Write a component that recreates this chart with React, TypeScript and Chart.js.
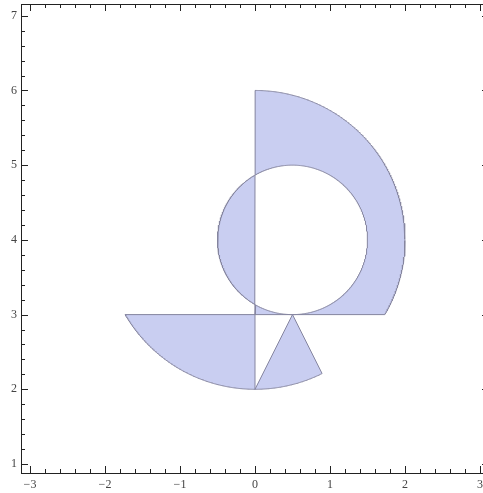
import React, { useEffect, useRef } from "react";
import { Chart, registerables } from "chart.js";

Chart.register(...registerables);

// Axis ranges and tick labels
const xRange = [-3.12, 3.12];
const yRange = [0.88, 7.157];
const xTickValues = [-3, -2, -1, 0, 1, 2, 3];
const yTickValues = [1, 2, 3, 4, 5, 6, 7];
const minorStep = 0.2;

// Geometry of the region (circles, cut lines, wedge)
const bigCircle = { cx: 0, cy: 4, r: 2 };
const smallCircle = { cx: 0.5, cy: 4, r: 1 };
const cutX = 0;
const cutY = 3;
const wedgeApex = { x: 0.5, y: 3 };
const wedgeSlope = 2;

const FILL = "rgba(201,206,241,1)";
const STROKE = "#85859f";

type P = { x: number; y: number };
const deg = Math.PI / 180;
function arc(c: { cx: number; cy: number; r: number }, a0: number, a1: number): P[] {
  const n = Math.max(8, Math.ceil(Math.abs(a1 - a0) * 3));
  const pts: P[] = [];
  for (let i = 0; i <= n; i++) {
    const a = (a0 + ((a1 - a0) * i) / n) * deg;
    pts.push({ x: c.cx + c.r * Math.cos(a), y: c.cy + c.r * Math.sin(a) });
  }
  return pts;
}

// intersection angles
const bigAtCutY = Math.asin((cutY - bigCircle.cy) / bigCircle.r) / deg; // -30
const smallAtCutX = Math.acos((cutX - smallCircle.cx) / smallCircle.r) / deg; // 120
const smallBottom = -90;
function wedgeRightAngle() {
  const k = wedgeApex.y + wedgeSlope * wedgeApex.x - bigCircle.cy;
  const a = 1 + wedgeSlope * wedgeSlope;
  const b = -2 * k * wedgeSlope - 2 * bigCircle.cx;
  const c = bigCircle.cx * bigCircle.cx + k * k - bigCircle.r * bigCircle.r;
  const x = (-b + Math.sqrt(b * b - 4 * a * c)) / (2 * a);
  const y = k - wedgeSlope * x + bigCircle.cy;
  return Math.atan2(y - bigCircle.cy, x - bigCircle.cx) / deg;
}

const close = (pts: P[]) => [...pts, pts[0]];

const regionUpper = close([
  ...arc(bigCircle, 90, bigAtCutY),
  ...arc(smallCircle, smallBottom, smallAtCutX),
]);
const regionSliver = close([
  { x: cutX, y: cutY },
  ...arc(smallCircle, smallBottom, -smallAtCutX),
]);
const regionLens = close(arc(smallCircle, smallAtCutX, 360 - smallAtCutX));
const regionLowerLeft = close([
  { x: cutX, y: cutY },
  ...arc(bigCircle, 180 - bigAtCutY, 270),
]);
const regionWedge = close([
  { x: wedgeApex.x, y: wedgeApex.y },
  ...arc(bigCircle, 270, 360 + wedgeRightAngle()),
]);

const regions = [regionUpper, regionSliver, regionLens, regionLowerLeft, regionWedge];

const polyFill = {
  id: "polyFill",
  beforeDatasetsDraw(chart: any) {
    const ctx = chart.ctx;
    const a = chart.chartArea;
    ctx.save();
    ctx.beginPath();
    ctx.rect(a.left, a.top, a.right - a.left, a.bottom - a.top);
    ctx.clip();
    chart.data.datasets.forEach((ds: any, i: number) => {
      const meta = chart.getDatasetMeta(i);
      if (!meta.data.length) return;
      ctx.beginPath();
      meta.data.forEach((pt: any, j: number) => {
        if (j === 0) ctx.moveTo(pt.x, pt.y);
        else ctx.lineTo(pt.x, pt.y);
      });
      ctx.closePath();
      ctx.fillStyle = ds.backgroundColor;
      ctx.fill();
    });
    ctx.restore();
  },
};

const frameTicks = {
  id: "frameTicks",
  afterDraw(chart: any) {
    const ctx = chart.ctx;
    const a = chart.chartArea;
    const xs = chart.scales.x;
    const ys = chart.scales.y;
    ctx.save();
    ctx.strokeStyle = "#222";
    ctx.lineWidth = 1;
    ctx.strokeRect(Math.round(a.left) + 0.5, Math.round(a.top) + 0.5, Math.round(a.right - a.left), Math.round(a.bottom - a.top));
    ctx.beginPath();
    const isMajor = (v: number) => Math.abs(v - Math.round(v)) < 1e-6;
    for (let v = Math.ceil(xRange[0] / minorStep) * minorStep; v <= xRange[1] + 1e-9; v += minorStep) {
      const vv = Math.round(v * 10) / 10;
      const px = Math.round(xs.getPixelForValue(vv)) + 0.5;
      const len = isMajor(vv) ? 7 : 4;
      ctx.moveTo(px, a.bottom);
      ctx.lineTo(px, a.bottom - len);
      ctx.moveTo(px, a.top);
      ctx.lineTo(px, a.top + len);
    }
    for (let v = Math.ceil(yRange[0] / minorStep) * minorStep; v <= yRange[1] + 1e-9; v += minorStep) {
      const vv = Math.round(v * 10) / 10;
      const py = Math.round(ys.getPixelForValue(vv)) + 0.5;
      const len = isMajor(vv) ? 7 : 4;
      ctx.moveTo(a.left, py);
      ctx.lineTo(a.left + len, py);
      ctx.moveTo(a.right, py);
      ctx.lineTo(a.right - len, py);
    }
    ctx.stroke();
    ctx.restore();
  },
};

const fmt = (v: number) => String(v).replace("-", "\u2212");

export default function App() {
  const ref = useRef<HTMLCanvasElement>(null);
  useEffect(() => {
    if (!ref.current) return;
    const chart = new Chart(ref.current, {
      type: "scatter",
      data: {
        datasets: regions.map((r) => ({
          data: r,
          showLine: true,
          pointRadius: 0,
          pointHoverRadius: 0,
          borderColor: STROKE,
          borderWidth: 1,
          backgroundColor: FILL,
          fill: false,
          tension: 0,
        })),
      },
      options: {
        responsive: false,
        animation: false,
        events: [],
        layout: { padding: { top: 4, right: 3, left: 0, bottom: 0 } },
        plugins: { legend: { display: false }, tooltip: { enabled: false } },
        scales: {
          x: {
            type: "linear",
            min: xRange[0],
            max: xRange[1],
            grid: { display: false, drawTicks: false },
            border: { display: false },
            afterBuildTicks: (s: any) => {
              s.ticks = xTickValues.map((v) => ({ value: v }));
            },
            afterFit: (s: any) => {
              s.height = 20;
              s.paddingLeft = 0;
              s.paddingRight = 0;
              s.paddingTop = 0;
              s.paddingBottom = 0;
            },
            ticks: {
              padding: 5,
              autoSkip: false,
              maxRotation: 0,
              color: "#444",
              font: { family: "'Liberation Serif', serif", size: 12 },
              callback: (v: any) => fmt(Number(v)),
            },
          },
          y: {
            type: "linear",
            min: yRange[0],
            max: yRange[1],
            grid: { display: false, drawTicks: false },
            border: { display: false },
            afterBuildTicks: (s: any) => {
              s.ticks = yTickValues.map((v) => ({ value: v }));
            },
            afterFit: (s: any) => {
              s.width = 21;
              s.paddingLeft = 0;
              s.paddingRight = 0;
              s.paddingTop = 0;
              s.paddingBottom = 0;
            },
            ticks: {
              padding: 4,
              autoSkip: false,
              color: "#444",
              font: { family: "'Liberation Serif', serif", size: 12 },
              callback: (v: any) => fmt(Number(v)),
            },
          },
        },
      },
      plugins: [polyFill, frameTicks],
    });
    return () => chart.destroy();
  }, []);
  return (
    <div
      style={{
        position: "fixed",
        left: 0,
        top: 0,
        width: 483,
        height: 493,
        overflow: "hidden",
        background: "#fff",
      }}
    >
      <canvas ref={ref} width={492} height={493} style={{ display: "block", width: 492, height: 493 }} />
    </div>
  );
}
